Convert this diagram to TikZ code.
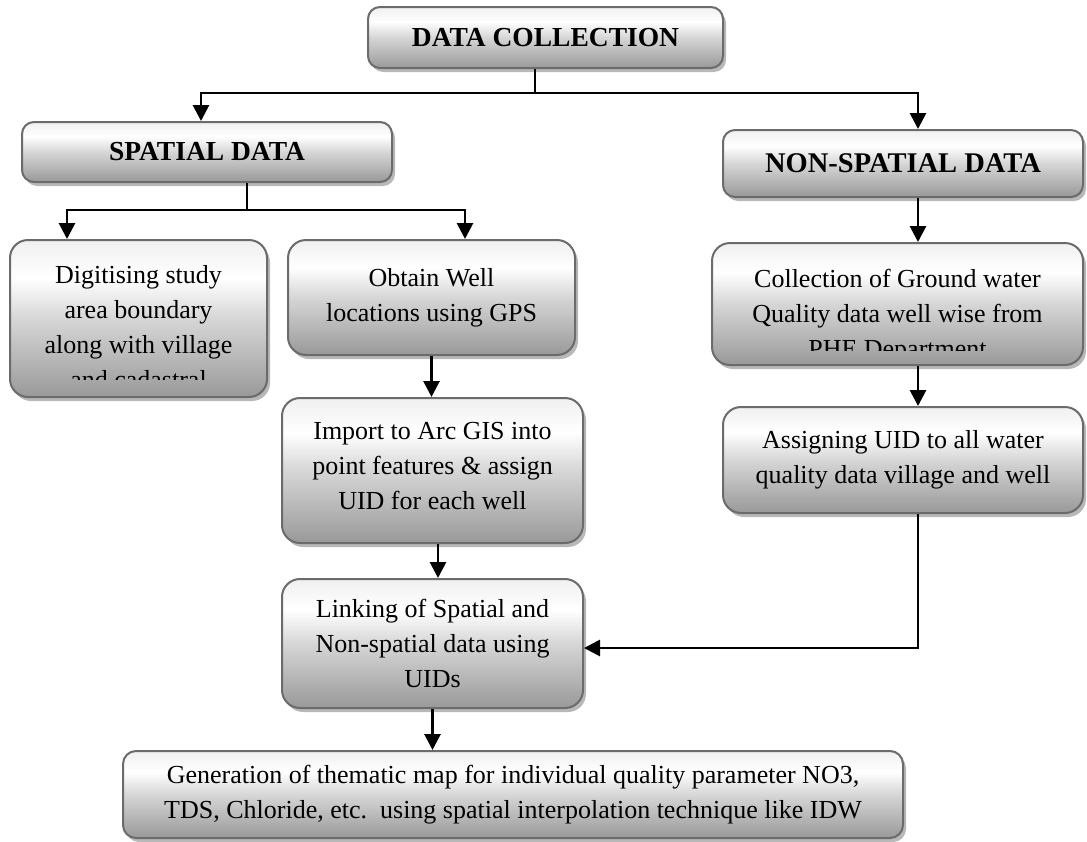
\documentclass[tikz,border=0pt]{standalone}
\usepackage{fontspec}
\setmainfont{Liberation Serif}
\usetikzlibrary{shadows,arrows.meta,calc}
\pgfdeclareverticalshading{boxshade}{100bp}{color(0bp)=(gray!80); color(25bp)=(gray!80); color(50bp)=(gray!32); color(63bp)=(white); color(75bp)=(gray!12); color(100bp)=(gray!12)}
\begin{document}
\begin{tikzpicture}[x=1pt,y=-1pt,
  box/.style={draw=black!58, line width=2pt, shading=boxshade, rounded corners=18pt,
    drop shadow={shadow xshift=3pt, shadow yshift=-4pt, fill=black!35, opacity=0.8},
    inner sep=0pt, align=center, font=\fontsize{26}{35}\selectfont},
  hdr/.style={box, rounded corners=12pt, font=\bfseries\fontsize{27.5}{32}\selectfont},
  txt/.style={inner sep=0pt, align=center, font=\fontsize{26}{35}\selectfont},
  arr/.style={line width=2.8pt, -{Triangle[width=16pt,length=16pt]}},
  ln/.style={line width=2.8pt}]
\useasboundingbox (0,0) rectangle (1087,841);

% header boxes
\node[hdr, minimum width=355pt, minimum height=61pt] (dc) at (545.5,37.5) {DATA COLLECTION};
\node[hdr, minimum width=370pt, minimum height=60pt] (sp) at (207,152) {SPATIAL DATA};
\node[hdr, minimum width=360pt, minimum height=67pt, font=\bfseries\fontsize{28.5}{32}\selectfont] (ns) at (903,163.5) {NON-SPATIAL DATA};

% left column
\node[box, minimum width=257pt, minimum height=157pt] (dig) at (138.5,318.5) {};
\begin{scope}
  \clip (10,240) rectangle (267,379);
  \node[txt, anchor=north] (digt) at (138.5,265) {Digitising study\\area boundary\\along with village\\and cadastral};
\end{scope}

\node[box, minimum width=287pt, minimum height=115pt] (obt) at (431.5,297.5) {Obtain Well\\locations using GPS};

\node[box, minimum width=301pt, minimum height=145pt] (imp) at (432.5,470.5) {};
\node[txt, anchor=north] (impt) at (432.5,422) {Import to Arc GIS into\\point features \& assign\\UID for each well};

\node[box, minimum width=301pt, minimum height=129pt] (lnk) at (432.5,643.5) {Linking of Spatial and\\Non-spatial data using\\UIDs};

\node[box, rounded corners=13pt, minimum width=780pt, minimum height=87pt] (gen) at (513,794.5) {Generation of thematic map for individual quality parameter NO3,\\TDS, Chloride, etc.\ \ using spatial interpolation technique like IDW};

% right column
\node[box, minimum width=371pt, minimum height=122pt] (col) at (897.5,304) {};
\begin{scope}
  \clip (712,243) rectangle (1083,350);
  \node[txt, anchor=north] (colt) at (897.5,269) {Collection of Ground water\\Quality data well wise from\\PHE Department};
\end{scope}

\node[box, minimum width=360pt, minimum height=106pt] (asg) at (903,460) {Assigning UID to all water\\quality data village and well};

% connector helper coordinates
\coordinate (dcx) at (535,93);
\coordinate (tl) at (201,93);
\coordinate (tr) at (918,93);
\coordinate (sx) at (247,210);
\coordinate (sl) at (67,210);
\coordinate (sr) at (465,210);
\coordinate (rx) at (918,0);
\coordinate (ry) at (0,648);
\coordinate (mx) at (438,0);

% connectors
\draw[ln] (dc.south -| dcx) -- (dcx);
\draw[arr] (tr) -- (tl) -- (sp.north -| tl);
\draw[arr] (tl) -- (tr) -- (ns.north -| tr);

\draw[ln] (sp.south -| sx) -- (sx);
\draw[arr] (sr) -- (sl) -- (dig.north -| sl);
\draw[arr] (sl) -- (sr) -- (obt.north -| sr);

\draw[arr] (obt.south) -- (imp.north -| obt.south);
\draw[arr] (imp.south -| mx) -- (lnk.north -| mx);
\draw[arr] (lnk.south) -- (lnk.south |- gen.north);

\draw[arr] (ns.south -| rx) -- (col.north -| rx);
\draw[arr] (col.south -| rx) -- (asg.north -| rx);
\draw[arr] (asg.south -| rx) -- (rx |- ry) -- (lnk.east |- ry);
\end{tikzpicture}
\end{document}
